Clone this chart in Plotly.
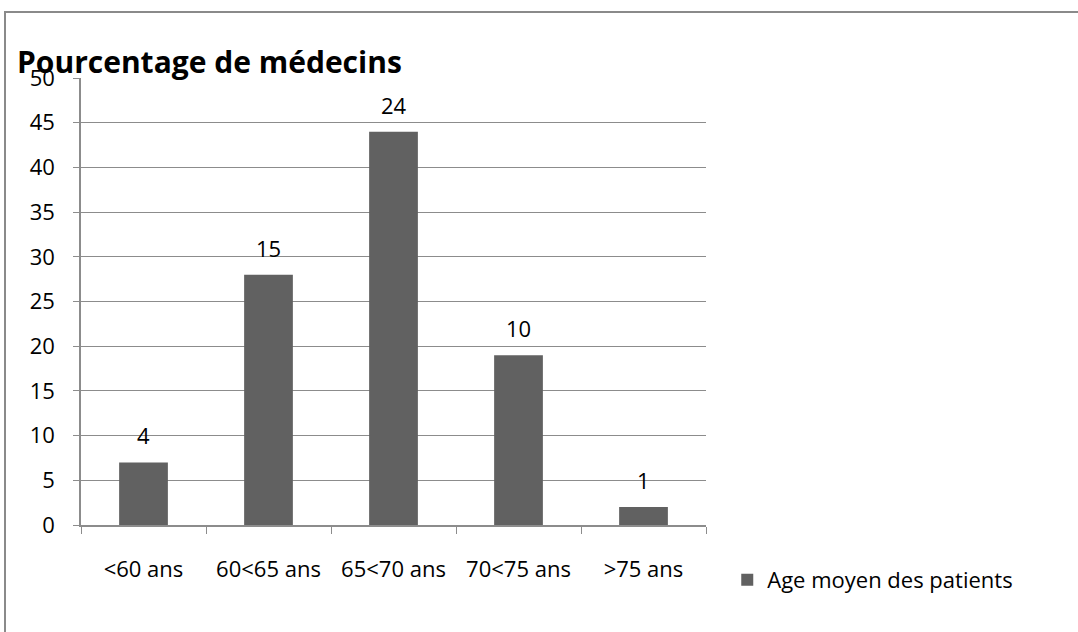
import plotly.graph_objects as go

categories = ["<60 ans", "60<65 ans", "65<70 ans", "70<75 ans", ">75 ans"]
percentages = [7, 28, 44, 19, 2]
counts = [4, 15, 24, 10, 1]
series_name = "Age moyen des patients"
title_text = "Pourcentage de médecins"
y_ticks = list(range(0, 51, 5))

FONT = "Open Sans"
BAR = "#616161"
GRID = "#8c8c8c"

fig = go.Figure()
fig.add_trace(go.Bar(
    x=categories, y=percentages, name=series_name,
    marker=dict(color=BAR, line=dict(width=0)),
    width=0.39, showlegend=True,
))

for c, v, n in zip(categories, percentages, counts):
    fig.add_annotation(x=c, y=v, text=str(n), showarrow=False,
                       yshift=27, font=dict(family=FONT, size=22, color="#000"))

fig.add_annotation(xref="paper", yref="paper", x=-0.105, y=1.0,
                   xanchor="left", yanchor="bottom", yshift=-6,
                   text="<b>" + title_text + "</b>", showarrow=False,
                   font=dict(family=FONT, size=30, color="#000"))

fig.add_shape(type="rect", xref="paper", yref="paper",
              x0=-0.1216, x1=2.5, y0=-1.0, y1=1.1477,
              line=dict(color="#8a8a8a", width=2), fillcolor="rgba(0,0,0,0)",
              layer="below")

fig.update_layout(
    width=1078, height=632,
    margin=dict(l=81, r=372, t=78, b=107),
    paper_bgcolor="white", plot_bgcolor="white",
    font=dict(family=FONT, size=22, color="#000"),
    showlegend=True,
    legend=dict(x=1.034, y=-0.123, xanchor="left", yanchor="middle",
                font=dict(family=FONT, size=22, color="#000"),
                bgcolor="rgba(0,0,0,0)"),
)
fig.update_xaxes(
    type="category", showline=True, linecolor=GRID, linewidth=1.5,
    ticks="outside", tickson="boundaries", ticklen=7, tickcolor=GRID,
    ticklabelstandoff=24, showgrid=False, zeroline=False,
)
fig.update_yaxes(
    range=[0, 50], tickvals=y_ticks, showline=True, linecolor=GRID, linewidth=1.5,
    ticks="outside", ticklen=6, tickcolor=GRID, ticklabelstandoff=14,
    showgrid=True, gridcolor=GRID, gridwidth=1.2, zeroline=False,
)

fig.write_html("out.html", config={"displayModeBar": False},
               post_script="document.body.style.margin='0';document.body.style.overflow='hidden';")
